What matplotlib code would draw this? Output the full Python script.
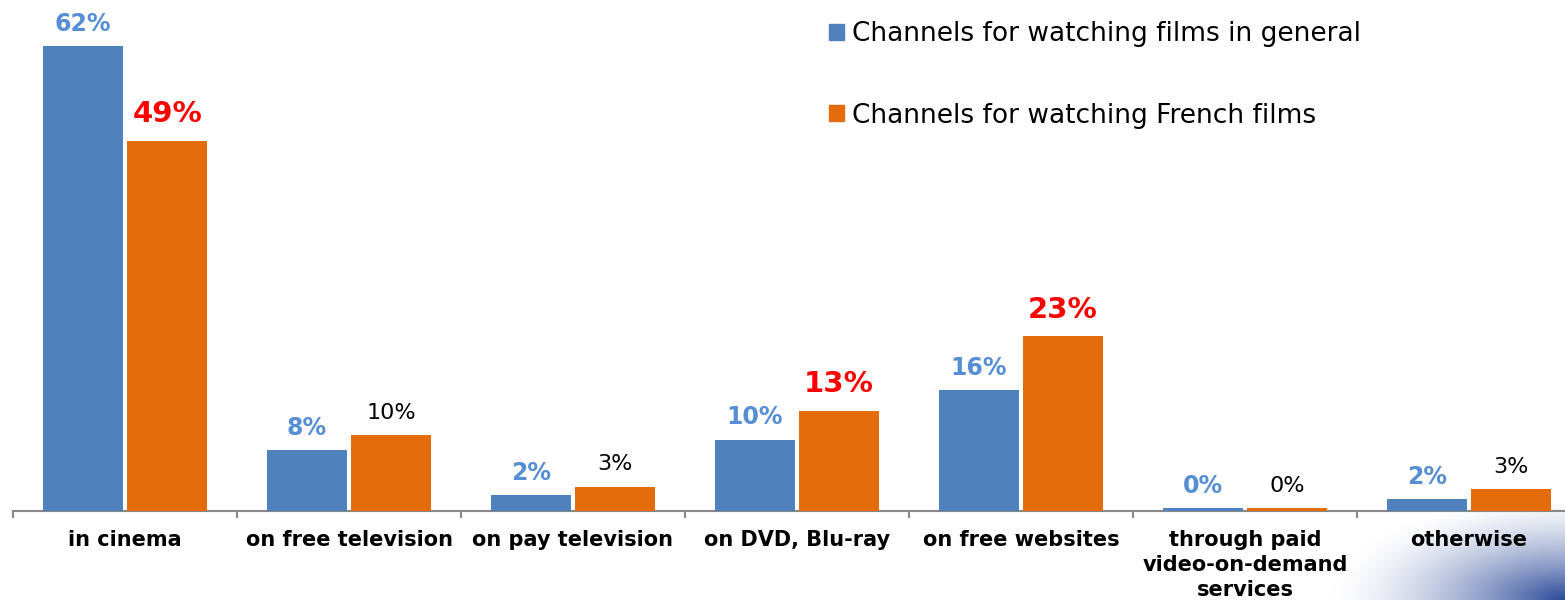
import numpy as np
import matplotlib.pyplot as plt
from matplotlib.patches import Patch

categories = ['in cinema', 'on free television', 'on pay television', 'on DVD, Blu-ray',
              'on free websites', 'through paid\nvideo-on-demand\nservices', 'otherwise']
general = [62.0, 8.1, 2.1, 9.5, 16.1, 0.4, 1.6]
french = [49.4, 10.1, 3.2, 13.4, 23.3, 0.4, 2.9]
# which French labels are highlighted in red
french_highlight = [True, False, False, True, True, False, False]

BLUE = '#4f81bd'
ORANGE = '#e46c0a'
LABEL_BLUE = '#558ed5'

fig = plt.figure(figsize=(15.65, 6), dpi=100)

# decorative gradient in bottom right corner
cax = fig.add_axes([0.85, 0.0, 0.15, 0.16], zorder=0)
gx, gy = np.meshgrid(np.linspace(0, 1, 300), np.linspace(0, 1, 120))
d = np.sqrt(((1 - gx) / 1.0) ** 2 + (gy / 1.1) ** 2)
t = np.clip(1 - d, 0, 1) ** 1.5
dark = np.array([0.17, 0.29, 0.60])
img = np.ones((120, 300, 3)) * (1 - t[..., None]) + dark * t[..., None]
cax.imshow(img, origin='lower', aspect='auto', extent=(0, 1, 0, 1))
cax.axis('off')

ymax = 66
ax = fig.add_axes([13 / 1565, 89 / 600, 7 * 224 / 1565, ymax * 7.5 / 600], zorder=1)
ax.patch.set_alpha(0)

x = np.arange(len(categories))
w = 0.357
off = 0.188
ax.bar(x - off, general, w, color=BLUE, zorder=3)
ax.bar(x + off, french, w, color=ORANGE, zorder=3)

for xi, v in zip(x, general):
    ax.annotate(f'{round(v)}%', (xi - off, v), xytext=(0, 7.5), textcoords='offset points',
                ha='center', va='bottom', fontsize=17, fontweight='bold', color=LABEL_BLUE)
for xi, v, hl in zip(x, french, french_highlight):
    if hl:
        ax.annotate(f'{round(v)}%', (xi + off, v), xytext=(0, 9), textcoords='offset points',
                    ha='center', va='bottom', fontsize=21, fontweight='bold', color='red')
    else:
        ax.annotate(f'{round(v)}%', (xi + off, v), xytext=(0, 9), textcoords='offset points',
                    ha='center', va='bottom', fontsize=16, color='black')

ax.set_xlim(-0.5, len(categories) - 0.5)
ax.set_ylim(0, ymax)
ax.set_yticks([])
ax.set_xticks(np.arange(len(categories) + 1) - 0.5)
ax.set_xticklabels([])
ax.set_xticks(x, minor=True)
ax.set_xticklabels(categories, minor=True, fontsize=15, fontweight='bold', linespacing=1.3)
ax.tick_params(axis='x', which='major', length=5, width=1.5, color='#888888')
ax.tick_params(axis='x', which='minor', length=0, pad=14)
for s in ['top', 'right', 'left']:
    ax.spines[s].set_visible(False)
ax.spines['bottom'].set_color('#888888')
ax.spines['bottom'].set_linewidth(1.5)
ax.spines['bottom'].set_zorder(2)

handles = [Patch(color=BLUE), Patch(color=ORANGE)]
fig.legend(handles, ['Channels for watching films in general', 'Channels for watching French films'],
           loc='upper left', bbox_to_anchor=(808 / 1565, 1.0), frameon=False, fontsize=19,
           handlelength=0.55, handleheight=0.55, handletextpad=0.3, labelspacing=2.1,
           borderaxespad=0.4)

fig.savefig('out.png', dpi=100)
